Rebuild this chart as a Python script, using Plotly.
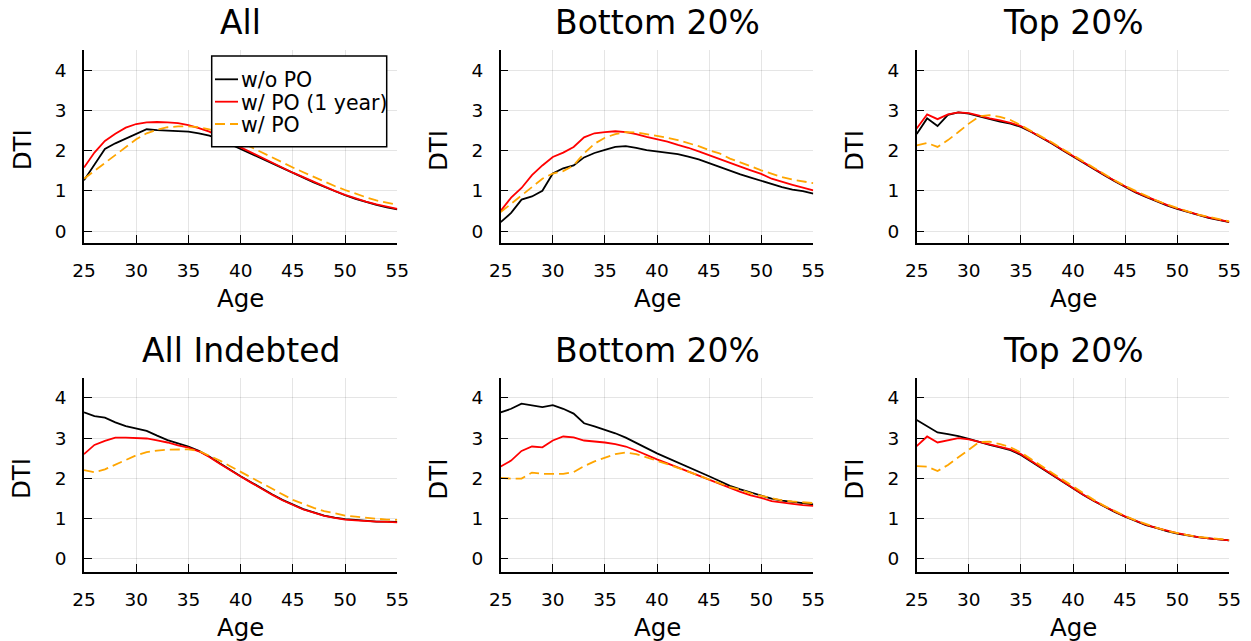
import plotly.graph_objects as go

ages = list(range(25, 56))

titles = ["All", "Bottom 20%", "Top 20%", "All Indebted", "Bottom 20%", "Top 20%"]
series_names = ["w/o PO", "w/ PO (1 year)", "w/ PO"]
y_ticks = [0, 1, 2, 3, 4]
x_ticks = [25, 30, 35, 40, 45, 50, 55]

all_wo = [1.26, 1.65, 2.04, 2.18, 2.30, 2.41, 2.53, 2.51, 2.50, 2.49, 2.47, 2.43, 2.37, 2.28, 2.16, 2.03,
          1.92, 1.80, 1.68, 1.56, 1.44, 1.33, 1.21, 1.10, 0.99, 0.89, 0.80, 0.72, 0.65, 0.59, 0.54]
all_w1 = [1.58, 1.95, 2.24, 2.42, 2.57, 2.66, 2.70, 2.71, 2.70, 2.68, 2.63, 2.56, 2.47, 2.35, 2.22, 2.08,
          1.95, 1.82, 1.70, 1.57, 1.45, 1.34, 1.22, 1.11, 1.00, 0.90, 0.81, 0.73, 0.66, 0.60, 0.55]
all_po = [1.30, 1.50, 1.70, 1.90, 2.10, 2.28, 2.43, 2.52, 2.58, 2.60, 2.60, 2.58, 2.53, 2.45, 2.34, 2.21,
          2.09, 1.96, 1.83, 1.70, 1.58, 1.46, 1.34, 1.23, 1.12, 1.02, 0.92, 0.84, 0.76, 0.70, 0.65]

b20_wo = [0.22, 0.45, 0.78, 0.86, 1.00, 1.43, 1.56, 1.63, 1.83, 1.94, 2.02, 2.09, 2.11, 2.07, 2.01, 1.98,
          1.95, 1.91, 1.85, 1.78, 1.69, 1.59, 1.50, 1.41, 1.33, 1.25, 1.16, 1.09, 1.03, 0.99, 0.93]
b20_w1 = [0.50, 0.83, 1.07, 1.39, 1.63, 1.84, 1.95, 2.09, 2.33, 2.43, 2.46, 2.48, 2.46, 2.41, 2.34, 2.28,
          2.22, 2.14, 2.07, 1.98, 1.88, 1.78, 1.69, 1.60, 1.51, 1.42, 1.30, 1.22, 1.15, 1.08, 1.01]
b20_po = [0.47, 0.68, 0.89, 1.10, 1.30, 1.43, 1.49, 1.63, 1.93, 2.17, 2.32, 2.41, 2.46, 2.45, 2.41, 2.37,
          2.32, 2.26, 2.19, 2.11, 2.01, 1.93, 1.80, 1.71, 1.61, 1.51, 1.43, 1.34, 1.28, 1.23, 1.19]

t20_wo = [2.41, 2.80, 2.61, 2.89, 2.95, 2.92, 2.85, 2.78, 2.72, 2.67, 2.59, 2.46, 2.32, 2.17, 2.01, 1.85,
          1.69, 1.54, 1.39, 1.24, 1.10, 0.96, 0.85, 0.74, 0.64, 0.55, 0.47, 0.40, 0.33, 0.28, 0.22]
t20_w1 = [2.55, 2.90, 2.78, 2.90, 2.95, 2.93, 2.87, 2.80, 2.75, 2.69, 2.61, 2.47, 2.33, 2.18, 2.02, 1.86,
          1.70, 1.55, 1.40, 1.25, 1.11, 0.97, 0.86, 0.75, 0.65, 0.56, 0.48, 0.41, 0.34, 0.29, 0.23]
t20_po = [2.13, 2.19, 2.09, 2.26, 2.46, 2.67, 2.85, 2.88, 2.84, 2.76, 2.63, 2.49, 2.36, 2.20, 2.04, 1.88,
          1.73, 1.57, 1.42, 1.26, 1.12, 1.00, 0.87, 0.76, 0.66, 0.57, 0.49, 0.41, 0.35, 0.29, 0.24]

ind_wo = [3.64, 3.55, 3.51, 3.39, 3.30, 3.24, 3.18, 3.06, 2.95, 2.87, 2.79, 2.68, 2.54, 2.37, 2.20, 2.05,
          1.90, 1.74, 1.60, 1.46, 1.34, 1.23, 1.15, 1.07, 1.02, 0.98, 0.96, 0.94, 0.92, 0.92, 0.91]
ind_w1 = [2.60, 2.83, 2.93, 3.01, 3.01, 3.00, 2.99, 2.94, 2.89, 2.82, 2.76, 2.67, 2.53, 2.36, 2.19, 2.04,
          1.89, 1.73, 1.59, 1.45, 1.33, 1.22, 1.14, 1.06, 1.01, 0.97, 0.95, 0.93, 0.92, 0.91, 0.90]
ind_po = [2.20, 2.15, 2.22, 2.33, 2.45, 2.57, 2.65, 2.69, 2.71, 2.72, 2.72, 2.68, 2.57, 2.44, 2.30, 2.16,
          2.01, 1.86, 1.72, 1.59, 1.46, 1.36, 1.26, 1.18, 1.12, 1.07, 1.04, 1.01, 0.99, 0.97, 0.96]

ib20_wo = [3.64, 3.73, 3.86, 3.82, 3.77, 3.82, 3.73, 3.61, 3.37, 3.29, 3.20, 3.12, 3.01, 2.89, 2.75, 2.62,
           2.51, 2.40, 2.29, 2.16, 2.05, 1.93, 1.81, 1.72, 1.64, 1.56, 1.49, 1.44, 1.41, 1.37, 1.35]
ib20_w1 = [2.29, 2.44, 2.68, 2.79, 2.77, 2.94, 3.04, 3.02, 2.94, 2.92, 2.89, 2.85, 2.79, 2.69, 2.57, 2.47,
           2.37, 2.27, 2.16, 2.05, 1.96, 1.85, 1.75, 1.66, 1.57, 1.51, 1.43, 1.39, 1.36, 1.33, 1.31]
ib20_po = [2.01, 1.99, 1.99, 2.14, 2.11, 2.11, 2.11, 2.15, 2.30, 2.42, 2.52, 2.60, 2.64, 2.60, 2.52, 2.44,
           2.35, 2.26, 2.16, 2.07, 1.97, 1.87, 1.78, 1.71, 1.62, 1.56, 1.50, 1.45, 1.42, 1.40, 1.38]

it20_wo = [3.45, 3.30, 3.14, 3.10, 3.05, 2.98, 2.90, 2.83, 2.77, 2.70, 2.58, 2.41, 2.25, 2.08, 1.91, 1.75,
           1.58, 1.43, 1.29, 1.16, 1.04, 0.93, 0.83, 0.76, 0.68, 0.62, 0.57, 0.53, 0.50, 0.47, 0.45]
it20_w1 = [2.80, 3.04, 2.89, 2.94, 3.00, 2.97, 2.91, 2.85, 2.79, 2.72, 2.60, 2.42, 2.26, 2.09, 1.92, 1.76,
           1.59, 1.44, 1.30, 1.17, 1.05, 0.94, 0.84, 0.76, 0.69, 0.63, 0.58, 0.53, 0.50, 0.47, 0.45]
it20_po = [2.30, 2.29, 2.18, 2.33, 2.52, 2.72, 2.90, 2.91, 2.85, 2.77, 2.64, 2.47, 2.30, 2.12, 1.96, 1.79,
           1.62, 1.46, 1.31, 1.18, 1.06, 0.95, 0.85, 0.77, 0.69, 0.63, 0.58, 0.54, 0.51, 0.48, 0.46]

panels = [
    (all_wo, all_w1, all_po),
    (b20_wo, b20_w1, b20_po),
    (t20_wo, t20_w1, t20_po),
    (ind_wo, ind_w1, ind_po),
    (ib20_wo, ib20_w1, ib20_po),
    (it20_wo, it20_w1, it20_po),
]

W, H = 1251, 641
ML, MR, MT, MB = 15, 15, 0, 0
PW, PH = W - ML - MR, H - MT - MB
FONT = "DejaVu Sans"


def fx(px):
    return (px - ML) / PW


def fy(py):
    return 1 - (py - MT) / PH


x_dom_px = [(84.0, 397.3), (500.7, 813.3), (916.7, 1229.3)]
y_dom_px = [(50.0, 242.7), (378.3, 571.7)]
y_ranges = [(-0.29, 4.5), (-0.33, 4.49)]

colors = ["black", "#ff0000", "#ffa500"]
dashes = ["solid", "solid", "10px,5px"]
LW = 1.8

fig = go.Figure()
annotations = []
shapes = []
layout_axes = {}
for i, series in enumerate(panels):
    n = i + 1
    r, c = divmod(i, 3)
    xs = "x" if n == 1 else f"x{n}"
    ys = "y" if n == 1 else f"y{n}"
    for k, vals in enumerate(series):
        fig.add_trace(go.Scatter(
            x=ages, y=vals, mode="lines", name=series_names[k],
            line=dict(color=colors[k], width=LW, dash=dashes[k]),
            xaxis=xs, yaxis=ys, showlegend=False,
        ))
    x0, x1 = x_dom_px[c]
    yt, yb = y_dom_px[r]
    common = dict(
        showgrid=True, gridcolor="rgba(0,0,0,0.1)", gridwidth=1,
        zeroline=False, showline=True, linecolor="black", linewidth=1.5,
        ticks="inside", ticklen=8, tickwidth=1.3, tickcolor="black",
        tickfont=dict(family=FONT, size=18.5, color="black"),
        mirror=False, automargin=False,
    )
    layout_axes["xaxis" if n == 1 else f"xaxis{n}"] = dict(
        domain=[fx(x0), fx(x1)], anchor=ys, range=[25, 55], tickvals=x_ticks,
        ticklabelstandoff=10, **common)
    layout_axes["yaxis" if n == 1 else f"yaxis{n}"] = dict(
        domain=[fy(yb), fy(yt)], anchor=xs, range=list(y_ranges[r]), tickvals=y_ticks,
        ticklabelstandoff=12, **common)
    xc = fx((x0 + x1) / 2)
    annotations.append(dict(
        text=titles[i], x=xc, y=fy(yt - 28), xref="paper", yref="paper",
        xanchor="center", yanchor="middle", showarrow=False,
        font=dict(family=FONT, size=33, color="black")))
    annotations.append(dict(
        text="Age", x=xc, y=fy(yb + 56), xref="paper", yref="paper",
        xanchor="center", yanchor="middle", showarrow=False,
        font=dict(family=FONT, size=24.5, color="black")))
    annotations.append(dict(
        text="DTI", x=fx(x0 - 62), y=fy((yt + yb) / 2 + 4), xref="paper", yref="paper",
        xanchor="center", yanchor="middle", showarrow=False, textangle=-90,
        font=dict(family=FONT, size=24.5, color="black")))

# legend box (drawn in the first panel, top-right)
lx0, lx1, ly0, ly1 = 211.7, 386.7, 56.0, 146.7
shapes.append(dict(type="rect", xref="paper", yref="paper",
                   x0=fx(lx0), x1=fx(lx1), y0=fy(ly1), y1=fy(ly0),
                   line=dict(color="black", width=1.5), fillcolor="white", layer="above"))
entry_y = [79.3, 101.7, 124.0]
for k, name in enumerate(series_names):
    shapes.append(dict(type="line", xref="paper", yref="paper",
                       x0=fx(215), x1=fx(238), y0=fy(entry_y[k]), y1=fy(entry_y[k]),
                       line=dict(color=colors[k], width=LW, dash=dashes[k]), layer="above"))
    annotations.append(dict(
        text=name, x=fx(239), y=fy(entry_y[k] + 1), xref="paper", yref="paper",
        xanchor="left", yanchor="middle", showarrow=False,
        font=dict(family=FONT, size=20.5, color="black")))

fig.update_layout(
    width=W, height=H, margin=dict(l=ML, r=MR, t=MT, b=MB),
    paper_bgcolor="white", plot_bgcolor="white",
    annotations=annotations, shapes=shapes, showlegend=False,
    **layout_axes,
)

fig.write_html("out.html")
